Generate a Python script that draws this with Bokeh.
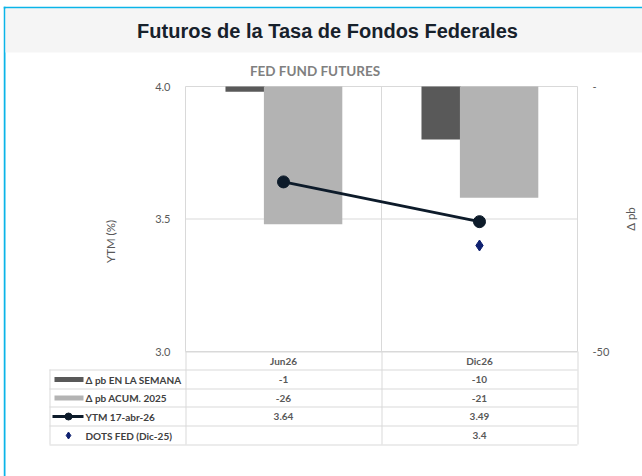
import math
from bokeh.plotting import figure
from bokeh.models import (ColumnDataSource, Range1d, LinearAxis, FixedTicker, PrintfTickFormatter)
from bokeh.core.properties import value
from bokeh.embed import file_html
from bokeh.resources import INLINE

# ---------------- data ----------------
categories = ["Jun26", "Dic26"]
pb_semana = [-1, -10]
pb_acum = [-26, -21]
ytm = [3.64, 3.49]
dots_cats = ["Dic26"]
dots_fed = [3.4]
dots_table = ["", "3.4"]
left_ticks = [3.0, 3.5, 4.0]
right_ticks = [-50, 0]
right_tick_labels = {0: "-", -50: "-50"}
series_names = ["Δ pb EN LA SEMANA", "Δ pb ACUM. 2025", "YTM 17-abr-26", "DOTS FED (Dic-25)"]

# ---------------- styling / layout constants (page pixels) ----------------
GRID = "#d9d9d9"
DARK = "#595959"
LIGHT = "#b3b3b3"
LINE = "#0d1b2a"
NAVY = "#0f2170"
CYAN = "#0ab4e8"
FONT = "Lato"

PX0, PY0, PX1, PY1 = 3, 6, 642, 476          # canvas extent on the page
PL, PR, PT, PB = 185, 577, 86, 351           # plot area on the page
n = len(categories)
CW = (PR - PL) / n
YL0, YL1 = left_ticks[0], left_ticks[-1]
YR0, YR1 = right_ticks[0], right_ticks[-1]
ppu_l = (PB - PT) / (YL1 - YL0)
ppu_r = (PB - PT) / (YR1 - YR0)

p = figure(width=PX1 - PX0, height=PY1 - PY0,
           x_range=Range1d((PX0 - PL) / CW, n + (PX1 - PR) / CW),
           y_range=Range1d(YL0 - (PY1 - PB) / ppu_l, YL1 + (PT - PY0) / ppu_l),
           x_axis_type=None, y_axis_type=None,
           output_backend="svg", toolbar_location=None,
           min_border=0, min_border_left=0, min_border_right=0, min_border_top=0, min_border_bottom=0,
           styles={"position": "absolute", "left": f"{PX0}px", "top": f"{PY0}px"})
p.extra_y_ranges = {"pb": Range1d(YR0 - (PY1 - PB) / ppu_r, YR1 + (PT - PY0) / ppu_r),
                    "px": Range1d(PY1, PY0)}
p.extra_x_ranges = {"px": Range1d(PX0, PX1)}
p.background_fill_color = "white"
p.border_fill_color = "white"
p.outline_line_color = None

PXR = dict(x_range_name="px", y_range_name="px")

# ---------------- frame & title band ----------------
p.quad(left=PX0, right=PX1, top=PY0, bottom=PY0 + 2, fill_color=CYAN, line_color=None, **PXR)
p.quad(left=PX0, right=PX0 + 2, top=PY0, bottom=PY1, fill_color=CYAN, line_color=None, **PXR)
p.quad(left=PX0 + 2, right=PX1, top=PY0 + 2, bottom=52, fill_color="#f5f5f5", line_color=None, **PXR)
p.text(x=[327], y=[30.5], text=["Futuros de la Tasa de Fondos Federales"], text_align="center",
       text_baseline="middle", text_font=value("Liberation Sans"), text_font_style="bold",
       text_font_size="20px", text_color="#17212b", **PXR)
p.text(x=[314.5], y=[70.5], text=["FED FUND FUTURES"], text_align="center", text_baseline="middle",
       text_font=value(FONT), text_font_style="bold", text_font_size="13.5px", text_color="#808080", **PXR)

# ---------------- axes ----------------
ya = LinearAxis(fixed_location=0, ticker=FixedTicker(ticks=left_ticks),
                formatter=PrintfTickFormatter(format="%.1f"))
ya.axis_label = "YTM (%)"
ya.axis_label_standoff = 35
ra = LinearAxis(y_range_name="pb", fixed_location=n, ticker=FixedTicker(ticks=right_ticks),
                major_label_overrides=right_tick_labels)
for ax in (ya, ra):
    ax.axis_label_text_font = FONT
    ax.axis_label_text_font_style = "normal"
    ax.axis_label_text_font_size = "11.5px"
    ax.axis_label_text_color = DARK
    ax.major_label_text_font = FONT
    ax.major_label_text_font_size = "11px"
    ax.major_label_text_color = DARK
    ax.major_label_standoff = 15
    ax.axis_line_color = None
    ax.major_tick_line_color = None
    ax.minor_tick_line_color = None
    ax.major_tick_out = 0
    ax.major_tick_in = 0
    ax.minor_tick_out = 0
p.add_layout(ya, "left")
p.add_layout(ra, "right")
# right axis title (reads bottom-to-top as in the reference)
p.text(x=[630], y=[(PT + PB) / 2], text=["Δ pb"], angle=math.pi / 2, text_align="center",
       text_baseline="middle", text_font=value(FONT), text_font_size="11.5px", text_color=DARK, **PXR)

# ---------------- grid / plot border ----------------
edges = list(range(n + 1))
p.segment(x0=[0] * len(left_ticks), y0=left_ticks, x1=[n] * len(left_ticks), y1=left_ticks,
          line_color=GRID, line_width=1)
p.segment(x0=edges, y0=[YL0] * len(edges), x1=edges, y1=[YL1] * len(edges), line_color=GRID, line_width=1)

# ---------------- marks ----------------
xc = [i + 0.5 for i in range(n)]
src = ColumnDataSource(dict(x=xc, semana=pb_semana, acum=pb_acum, ytm=ytm,
                            xs=[v - 0.196 for v in xc], xa=[v + 0.10 for v in xc]))
p.vbar(x="xs", top=0, bottom="semana", width=0.2, y_range_name="pb",
       fill_color=DARK, line_color=None, source=src)
p.vbar(x="xa", top=0, bottom="acum", width=0.4, y_range_name="pb",
       fill_color=LIGHT, line_color=None, source=src)
p.line(x="x", y="ytm", line_width=3, line_color=LINE, source=src)
p.scatter(x="x", y="ytm", size=12, fill_color=LINE, line_color=LINE, source=src)
p.scatter(x=[categories.index(c) + 0.5 for c in dots_cats], y=dots_fed, marker="diamond",
          size=11, fill_color=NAVY, line_color=NAVY)

# ---------------- data table (page-pixel layout) ----------------
col_edges = [PL + CW * i for i in range(n + 1)]
col_mid = [PL + CW * (i + 0.5) for i in range(n)]
row_lines = [369, 388, 406, 425, 444]
LX = 49
p.segment(x0=[PL], y0=[PB + 0.5], x1=[PR], y1=[PB + 0.5], line_color=GRID, **PXR)
p.segment(x0=[LX] * len(row_lines), y0=[y + 0.5 for y in row_lines],
          x1=[PR] * len(row_lines), y1=[y + 0.5 for y in row_lines], line_color=GRID, **PXR)
p.segment(x0=[e + 0.5 for e in col_edges], y0=[PB] * len(col_edges),
          x1=[e + 0.5 for e in col_edges], y1=[row_lines[-1]] * len(col_edges), line_color=GRID, **PXR)
p.segment(x0=[LX + 0.5], y0=[row_lines[0]], x1=[LX + 0.5], y1=[row_lines[-1]], line_color=GRID, **PXR)

p.text(x=col_mid, y=[(PB + row_lines[0]) / 2 + 0.5] * n, text=categories, text_align="center",
       text_baseline="middle", text_font=value(FONT), text_font_style="bold",
       text_font_size="10px", text_color=DARK, **PXR)

row_y = [(row_lines[i] + row_lines[i + 1]) / 2 + 0.5 for i in range(4)]
p.quad(left=[54], right=[83], top=[row_y[0] - 2.5], bottom=[row_y[0] + 2.5],
       fill_color=DARK, line_color=None, **PXR)
p.quad(left=[54], right=[83], top=[row_y[1] - 2.5], bottom=[row_y[1] + 2.5],
       fill_color=LIGHT, line_color=None, **PXR)
p.segment(x0=[52], y0=[row_y[2]], x1=[83], y1=[row_y[2]], line_color=LINE, line_width=3, **PXR)
p.scatter(x=[68], y=[row_y[2]], size=7, fill_color=LINE, line_color=LINE, **PXR)
p.scatter(x=[68], y=[row_y[3]], marker="diamond", size=7, fill_color=NAVY, line_color=NAVY, **PXR)

p.text(x=[85] * len(series_names), y=row_y, text=series_names, text_align="left",
       text_baseline="middle", text_font=value(FONT), text_font_style="bold",
       text_font_size="10px", text_color="#404040", **PXR)

rows = [[str(v) for v in pb_semana], [str(v) for v in pb_acum], [str(v) for v in ytm], dots_table]
for vals, ry in zip(rows, row_y):
    p.text(x=col_mid, y=[ry] * n, text=vals, text_align="center", text_baseline="middle",
           text_font=value(FONT), text_font_style="bold", text_font_size="10px", text_color=DARK, **PXR)

open("out.html", "w").write(file_html(p, INLINE))
